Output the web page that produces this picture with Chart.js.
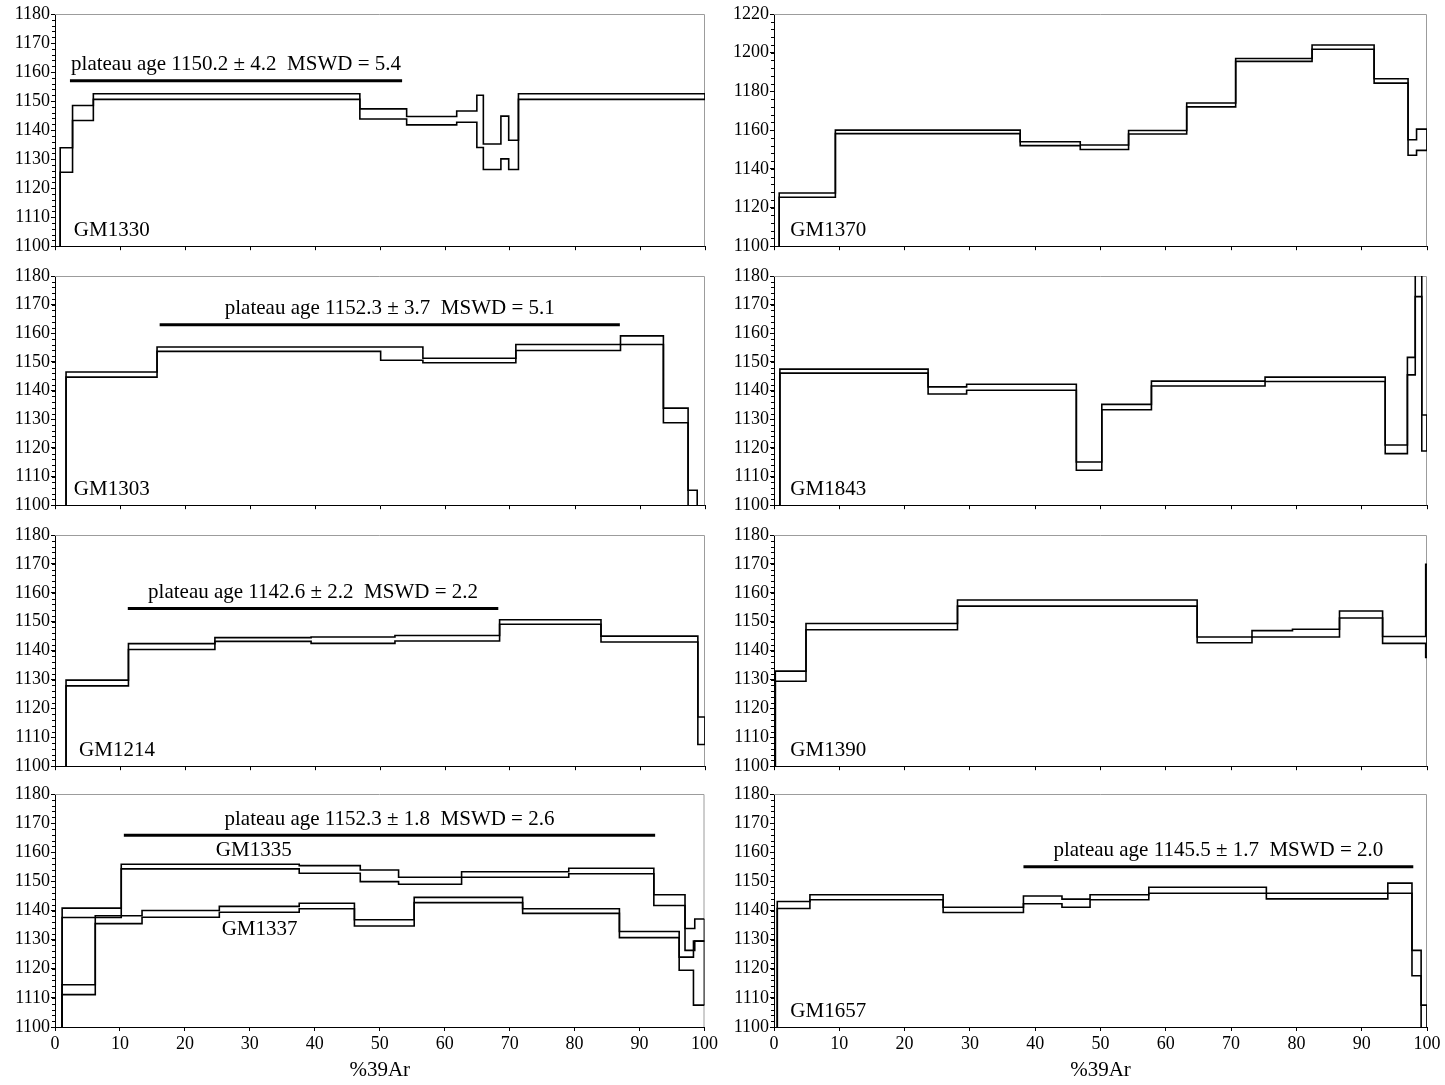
<!DOCTYPE html>
<html>
<head>
<meta charset="utf-8">
<script src="https://cdn.jsdelivr.net/npm/chart.js@4.4.0/dist/chart.umd.min.js"></script>
<style>
body { margin: 0; background: #fff; width: 1445px; height: 1085px; position: relative; overflow: hidden; }
canvas { position: absolute; }
</style>
</head>
<body>
<canvas id="p0"></canvas><canvas id="p1"></canvas><canvas id="p2"></canvas><canvas id="p3"></canvas>
<canvas id="p4"></canvas><canvas id="p5"></canvas><canvas id="p6"></canvas><canvas id="p7"></canvas>
<script>
// step edges (% 39Ar where each step starts) with upper / lower age bounds (Ma)
const gm1330Steps = [0, 0.8, 2.7, 5.9, 46.9, 54.1, 61.8, 64.9, 65.9, 68.6, 69.8, 71.3];
const gm1330Upper = [1090, 1133.9, 1148.5, 1152.5, 1147.3, 1144.7, 1146.6, 1152, 1135.2, 1144.8, 1136.5, 1152.5];
const gm1330Lower = [1080, 1125.5, 1143.3, 1150.6, 1143.8, 1141.8, 1142.7, 1134, 1126.4, 1130.1, 1126.4, 1150.6];

const gm1370Steps = [0, 0.8, 9.4, 37.7, 46.9, 54.3, 63.2, 70.7, 82.4, 91.9, 97.1, 98.4];
const gm1370Upper = [1090, 1127.5, 1160, 1154, 1152.3, 1159.8, 1174, 1197, 1204, 1186.5, 1155, 1160.5];
const gm1370Lower = [1080, 1125.3, 1158.2, 1152, 1150, 1158, 1172, 1195.5, 1201.8, 1184.3, 1147, 1149.5];

const gm1303Steps = [0, 1.7, 15.7, 50.1, 56.6, 70.9, 87.0, 93.6, 97.4, 98.8];
const gm1303Upper = [1090, 1146.5, 1155.2, 1155.2, 1151.3, 1156.1, 1159.1, 1133.9, 1105.2, 1090];
const gm1303Lower = [1080, 1144.7, 1153.7, 1150.6, 1149.7, 1154, 1156.1, 1128.8, 1090, 1085];

const gm1843Steps = [0, 0.9, 23.6, 29.5, 46.3, 50.2, 57.8, 75.2, 93.6, 97.0, 98.2, 99.2];
const gm1843Upper = [1090, 1147.5, 1141.3, 1142.2, 1115.1, 1135.2, 1143.3, 1144.7, 1121, 1151.6, 1200, 1131.5];
const gm1843Lower = [1080, 1146.1, 1138.8, 1140.1, 1112.2, 1133.3, 1141.6, 1143.2, 1118, 1145.5, 1172.8, 1118.9];

const gm1214Steps = [0, 1.7, 11.3, 24.6, 39.4, 52.3, 68.4, 84.0, 98.9];
const gm1214Upper = [1090, 1129.8, 1142.4, 1144.5, 1144.7, 1145.2, 1150.7, 1145, 1117];
const gm1214Lower = [1080, 1127.8, 1140.4, 1143.2, 1142.5, 1143.3, 1149.1, 1143, 1107.5];

const gm1390Steps = [0, 0.2, 4.9, 28.1, 64.8, 73.2, 79.4, 86.6, 93.2, 99.8];
const gm1390Upper = [1090, 1132.9, 1149.4, 1157.5, 1144.7, 1146.9, 1147.4, 1153.7, 1144.9, 1169.9];
const gm1390Lower = [1080, 1129.4, 1147.2, 1155.4, 1142.7, 1144.7, 1144.7, 1151.3, 1142.5, 1137.6];

const gm1335Steps = [0, 1.1, 10.2, 37.6, 47.0, 52.9, 62.6, 79.1, 92.2, 97.0, 98.5];
const gm1335Upper = [1090, 1140.8, 1155.9, 1155.4, 1153.9, 1151.4, 1153.3, 1154.5, 1145.4, 1133.8, 1137.1];
const gm1335Lower = [1080, 1137.6, 1154.3, 1152.8, 1149.9, 1149, 1151.4, 1152.6, 1141.7, 1126.3, 1129.5];

const gm1337Steps = [0, 1.1, 6.2, 13.4, 25.3, 37.6, 46.1, 55.3, 72.0, 86.9, 96.1, 98.3];
const gm1337Upper = [1090, 1114.5, 1138.2, 1140, 1141.4, 1142.5, 1136.8, 1144.5, 1140.6, 1132.8, 1124, 1129.5];
const gm1337Lower = [1080, 1111.1, 1135.5, 1137.7, 1139.4, 1140.6, 1134.7, 1142.7, 1139, 1130.7, 1119.5, 1107.5];

const gm1657Steps = [0, 0.5, 5.5, 25.9, 38.2, 44.1, 48.4, 57.4, 75.4, 94.0, 97.7, 99.1];
const gm1657Upper = [1090, 1143.1, 1145.4, 1141.1, 1145, 1143.9, 1145.4, 1148, 1145.9, 1149.4, 1126.3, 1107.5];
const gm1657Lower = [1080, 1140.7, 1143.7, 1139.3, 1142.3, 1141.1, 1143.7, 1145.9, 1144, 1145.9, 1117.6, 1090];

// plateau bars: [from %, to %, age level]
const gm1330Plateau = [2.3, 53.4, 1157];
const gm1303Plateau = [16.1, 86.9, 1163];
const gm1214Plateau = [11.2, 68.2, 1154.6];
const gm1335Plateau = [10.6, 92.4, 1165.8];
const gm1657Plateau = [38.2, 97.9, 1155];

const gm1330Text = "plateau age 1150.2 \u00b1 4.2  MSWD = 5.4";
const gm1303Text = "plateau age 1152.3 \u00b1 3.7  MSWD = 5.1";
const gm1214Text = "plateau age 1142.6 \u00b1 2.2  MSWD = 2.2";
const gm1335Text = "plateau age 1152.3 \u00b1 1.8  MSWD = 2.6";
const gm1657Text = "plateau age 1145.5 \u00b1 1.7  MSWD = 2.0";

const xTicks = [0, 10, 20, 30, 40, 50, 60, 70, 80, 90, 100];

// panel layout
const cols = [{ left: 0, width: 720, yw: 55, padR: 15 }, { left: 720, width: 725, yw: 54, padR: 18 }];
const rows = [{ top: 14, bottom: 252 }, { top: 276, bottom: 511 }, { top: 535, bottom: 772 }, { top: 794, bottom: 1027 }];
const padTop = 12;

const panels = [
    { col: 0, row: 0, yMin: 1100, yMax: 1180, yStep: 10, series: [[gm1330Steps, gm1330Upper, gm1330Lower]],
      plateau: gm1330Plateau, plateauText: gm1330Text, labels: [["GM1330", 2.9, null]] },
    { col: 1, row: 0, yMin: 1100, yMax: 1220, yStep: 20, series: [[gm1370Steps, gm1370Upper, gm1370Lower]],
      labels: [["GM1370", 2.5, null]] },
    { col: 0, row: 1, yMin: 1100, yMax: 1180, yStep: 10, series: [[gm1303Steps, gm1303Upper, gm1303Lower]],
      plateau: gm1303Plateau, plateauText: gm1303Text, labels: [["GM1303", 2.9, null]] },
    { col: 1, row: 1, yMin: 1100, yMax: 1180, yStep: 10, series: [[gm1843Steps, gm1843Upper, gm1843Lower]],
      labels: [["GM1843", 2.5, null]] },
    { col: 0, row: 2, yMin: 1100, yMax: 1180, yStep: 10, series: [[gm1214Steps, gm1214Upper, gm1214Lower]],
      plateau: gm1214Plateau, plateauText: gm1214Text, labels: [["GM1214", 3.7, null]] },
    { col: 1, row: 2, yMin: 1100, yMax: 1180, yStep: 10, series: [[gm1390Steps, gm1390Upper, gm1390Lower]],
      labels: [["GM1390", 2.5, null]] },
    { col: 0, row: 3, yMin: 1100, yMax: 1180, yStep: 10,
      series: [[gm1335Steps, gm1335Upper, gm1335Lower], [gm1337Steps, gm1337Upper, gm1337Lower]],
      plateau: gm1335Plateau, plateauText: gm1335Text, labels: [["GM1335", 30.6, 1160.5, "center"], ["GM1337", 31.5, 1133.5, "center"]] },
    { col: 1, row: 3, yMin: 1100, yMax: 1180, yStep: 10, series: [[gm1657Steps, gm1657Upper, gm1657Lower]],
      plateau: gm1657Plateau, plateauText: gm1657Text, labels: [["GM1657", 2.5, null]] }
];

const serif = '"Liberation Serif", "Times New Roman", serif';
Chart.defaults.font.family = serif;
Chart.defaults.font.size = 18;
Chart.defaults.color = '#000';

function stepPoints(steps, vals) {
    let pts = steps.map((x, i) => ({ x: x, y: vals[i] }));
    pts.push({ x: 100, y: vals[vals.length - 1] });
    return pts;
}

function lineSet(data, width, stepped) {
    return { data: data, borderColor: '#000', borderWidth: width, pointRadius: 0, stepped: stepped, fill: false };
}

function decor(p) {
    return {
        id: 'decor',
        beforeDatasetsDraw(chart) {
            const { ctx, chartArea: a, scales: { y } } = chart;
            ctx.save();
            ctx.strokeStyle = '#9c9c9c';
            ctx.lineWidth = 1;
            ctx.beginPath();
            ctx.moveTo(a.left, a.top + 0.5);
            ctx.lineTo(a.right - 0.5, a.top + 0.5);
            ctx.lineTo(a.right - 0.5, a.bottom);
            ctx.stroke();
            // minor ticks on the age axis
            ctx.strokeStyle = '#000';
            ctx.beginPath();
            for (let v = p.yMin; v <= p.yMax; v += p.yStep / 5) {
                const py = Math.round(y.getPixelForValue(v)) + 0.5;
                ctx.moveTo(a.left - 3, py);
                ctx.lineTo(a.left, py);
            }
            ctx.stroke();
            ctx.restore();
        },
        afterDatasetsDraw(chart) {
            const { ctx, chartArea: a, scales: { x, y } } = chart;
            ctx.save();
            ctx.fillStyle = '#000';
            ctx.font = '21px ' + serif;
            ctx.textBaseline = 'middle';
            if (p.plateau) {
                ctx.textAlign = 'center';
                const cx = (x.getPixelForValue(p.plateau[0]) + x.getPixelForValue(p.plateau[1])) / 2;
                ctx.fillText(p.plateauText, cx, y.getPixelForValue(p.plateau[2]) - 16);
            }
            p.labels.forEach(l => {
                ctx.textAlign = l[3] || 'left';
                const py = l[2] == null ? a.bottom - 16 : y.getPixelForValue(l[2]);
                ctx.fillText(l[0], x.getPixelForValue(l[1]), py);
            });
            ctx.restore();
        }
    };
}

panels.forEach((p, i) => {
    const c = cols[p.col], r = rows[p.row];
    const bottomRow = p.row === 3;
    const xh = bottomRow ? 58 : 6;
    const canvas = document.getElementById('p' + i);
    canvas.width = c.width;
    canvas.height = r.bottom - r.top + padTop + xh;
    canvas.style.left = c.left + 'px';
    canvas.style.top = (r.top - padTop) + 'px';

    let datasets = [];
    p.series.forEach(s => {
        datasets.push(lineSet(stepPoints(s[0], s[1]), 1.6, true));
        datasets.push(lineSet(stepPoints(s[0], s[2]), 1.6, true));
        // closing edge of the last step
        datasets.push(lineSet([{ x: 100, y: s[1][s[1].length - 1] }, { x: 100, y: s[2][s[2].length - 1] }], 1.6, false));
    });
    if (p.plateau) {
        datasets.push(lineSet([{ x: p.plateau[0], y: p.plateau[2] }, { x: p.plateau[1], y: p.plateau[2] }], 3, false));
    }

    new Chart(canvas, {
        type: 'line',
        data: { datasets: datasets },
        options: {
            responsive: false,
            animation: false,
            devicePixelRatio: 1,
            layout: { padding: { top: padTop, right: c.padR, left: 0, bottom: 0 } },
            plugins: { legend: { display: false }, tooltip: { enabled: false } },
            scales: {
                x: {
                    type: 'linear', min: 0, max: 100,
                    afterBuildTicks: (scale) => { scale.ticks = xTicks.map(v => ({ value: v })); },
                    afterFit: (scale) => { scale.height = xh; },
                    grid: { drawOnChartArea: false, drawTicks: true, tickLength: 4, color: '#000' },
                    border: { color: '#000', width: 1 },
                    ticks: { display: bottomRow, maxRotation: 0, autoSkip: false, padding: 2, font: { size: 18 } },
                    title: { display: bottomRow, text: '%39Ar', font: { size: 21 }, padding: { top: 0, bottom: 2 } }
                },
                y: {
                    type: 'linear', min: p.yMin, max: p.yMax,
                    afterFit: (scale) => { scale.width = c.yw; },
                    grid: { drawOnChartArea: false, drawTicks: true, tickLength: 4, color: '#000' },
                    border: { color: '#000', width: 1 },
                    ticks: { stepSize: p.yStep, padding: 1, font: { size: 18 }, callback: (v) => String(v) }
                }
            }
        },
        plugins: [decor(p)]
    });
});
</script>
</body>
</html>
